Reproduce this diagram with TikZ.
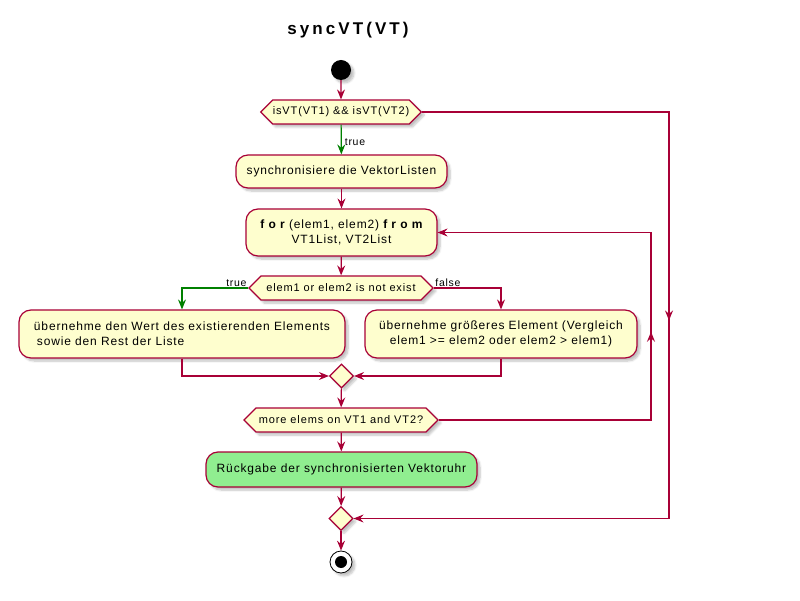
\documentclass[tikz,border=0pt]{standalone}
\usepackage{fontspec}
\usepackage{tikz}
\usetikzlibrary{arrows.meta, shapes.geometric, shapes.symbols, decorations.markings, shadows.blur}
\setmainfont{Liberation Sans}
\newfontfamily\umlfont[LetterSpace=7]{Liberation Sans}
\newfontfamily\hexfont[LetterSpace=8]{Liberation Sans}
\newfontfamily\kwfont[LetterSpace=35]{Liberation Sans Bold}
\newfontfamily\titlefont[LetterSpace=18]{Liberation Sans Bold}
\definecolor{umlred}{HTML}{A80036}
\definecolor{umlyellow}{HTML}{FEFECE}
\definecolor{umlgreen}{HTML}{008000}
\definecolor{umllight}{HTML}{90EE90}
\tikzset{>={Stealth[length=10pt, width=8pt, inset=3.5pt]}}
\tikzset{
  umlshadow/.style={blur shadow={shadow xshift=3pt, shadow yshift=-3pt, shadow opacity=25, shadow blur steps=6}},
  act/.style={draw=umlred, fill=umlyellow, line width=1.2pt, rounded corners=12pt, inner sep=0pt,
    minimum height=33pt, font=\umlfont\fontsize{12}{15}\selectfont, umlshadow},
  hex/.style={draw=umlred, fill=umlyellow, line width=1.2pt, signal, signal to=east and west,
    signal pointer angle=90, inner sep=0pt, minimum height=24pt, font=\hexfont\fontsize{11}{14}\selectfont, umlshadow},
  merge/.style={draw=umlred, fill=umlyellow, line width=1.2pt, diamond, inner sep=0pt,
    minimum width=24pt, minimum height=24pt, umlshadow},
  flow/.style={draw=umlred, line width=1.2pt, ->},
  yes/.style={flow, draw=umlgreen},
  lbl/.style={font=\umlfont\fontsize{10.5}{12}\selectfont, inner sep=1pt},
  midtip/.style={postaction={decorate}, decoration={markings, mark=at position #1 with {\arrow{>}}}}
}

\begin{document}
\begin{tikzpicture}[x=1pt,y=-1pt]
\useasboundingbox (0,0) rectangle (800,601);

\node[font=\titlefont\fontsize{17}{20}\selectfont] (title) at (348,30) {syncVT(VT)};

\node[circle, fill=black, minimum size=20pt, inner sep=0pt, umlshadow] (start) at (341,70) {};
\node[hex, minimum width=158pt] (vtok) at (341,112) {isVT(VT1) \&\& isVT(VT2)};
\node[act, minimum width=211pt] (sync) at (341.5,171.5) {synchronisiere die VektorListen};
\node[act, minimum width=191pt, minimum height=47pt, align=center] (loop) at (341.5,232.5)
  {{\kwfont for} (elem1, elem2) {\kwfont from}\\VT1List, VT2List};
\node[hex, minimum width=184pt] (exist) at (341,288) {elem1 or elem2 is not exist};
\node[act, minimum width=326pt, minimum height=48pt, align=left] (takeall) at (182,334)
  {übernehme den Wert des existierenden Elements\\\hspace*{3pt}sowie den Rest der Liste};
\node[act, minimum width=272pt, minimum height=48pt, align=center] (takebig) at (501,334)
  {übernehme größeres Element (Vergleich\\elem1 >= elem2 oder elem2 > elem1)};
\node[merge] (join) at (341.5,376) {};
\node[hex, minimum width=194pt] (more) at (341,420) {more elems on VT1 and VT2?};
\node[act, fill=umllight, minimum width=271pt, minimum height=35pt] (result) at (341.5,469.5)
  {Rückgabe der synchronisierten Vektoruhr};
\node[merge] (endif) at (341,518.5) {};
\node[circle, draw=black, fill=white, line width=0.8pt, minimum size=22pt, inner sep=0pt, umlshadow,
  path picture={\fill[black] (path picture bounding box.center) circle (6pt);}] (stop) at (341,562) {};

\coordinate (backline) at (651,0);
\coordinate (skipline) at (669,0);

\draw[flow] (start) -- (vtok);
\draw[yes] (vtok) -- node[lbl, right=2pt, pos=0.6] {true} (sync);
\draw[flow] (sync) -- (loop);
\draw[flow] (loop) -- (exist);
\draw[yes] (exist.west) -| node[lbl, pos=0, anchor=south east] {true} (takeall.north);
\draw[flow] (exist.east) -| node[lbl, pos=0, anchor=south west] {false} (takebig.north);
\draw[flow] (takeall.south) |- (join.west);
\draw[flow] (takebig.south) |- (join.east);
\draw[flow] (join) -- (more);
\draw[flow, midtip=0.49] (more.east) -- (more.east -| backline) |- (loop.east);
\draw[flow] (more) -- (result);
\draw[flow] (result) -- (endif);
\draw[flow, midtip=0.47] (vtok.east) -- (vtok.east -| skipline) |- (endif.east);
\draw[flow] (endif) -- (stop);

\end{tikzpicture}
\end{document}
